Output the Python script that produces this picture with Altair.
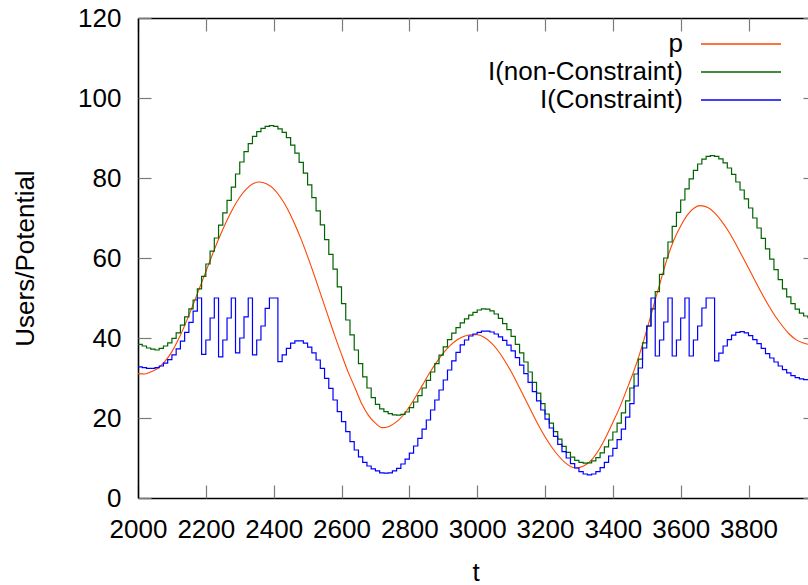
import altair as alt
import pandas as pd

FONT = "Liberation Sans"
FS = 26

SERIES = ["p", "I(non-Constraint)", "I(Constraint)"]
COLORS = ["#ff4500", "#006400", "#0000ff"]

X_TICKS = [2000, 2200, 2400, 2600, 2800, 3000, 3200, 3400, 3600, 3800]
Y_TICKS = [0, 20, 40, 60, 80, 100, 120]

# p : smooth curve
P_T = [2000, 2020, 2040, 2060, 2080, 2100, 2120, 2140, 2160, 2180, 2200, 2220, 2240, 2260,
       2280, 2300, 2320, 2340, 2357, 2380, 2400, 2420, 2440, 2460, 2480, 2500, 2520, 2540,
       2560, 2580, 2600, 2620, 2640, 2660, 2680, 2700, 2720, 2740, 2760, 2780, 2800, 2820,
       2840, 2860, 2880, 2900, 2920, 2940, 2960, 2980, 3000, 3020, 3040, 3060, 3080, 3100,
       3120, 3140, 3160, 3180, 3200, 3220, 3240, 3260, 3280, 3290, 3300, 3320, 3340, 3360,
       3380, 3400, 3420, 3440, 3460, 3480, 3500, 3520, 3540, 3560, 3580, 3600, 3620, 3640,
       3657, 3680, 3700, 3720, 3740, 3760, 3780, 3800, 3820, 3840, 3860, 3880, 3900, 3920,
       3940, 3960, 3980, 4000]
P_V = [31.1, 31.0, 31.6, 32.5, 34.2, 36.6, 39.8, 43.6, 47.8, 52.2, 56.6, 61.0, 65.2, 69.0,
       72.4, 75.2, 77.3, 78.6, 79.0, 78.5, 77.3, 75.2, 72.4, 68.9, 64.9, 60.4, 55.6, 50.6,
       45.6, 40.6, 35.9, 31.4, 27.5, 23.5, 20.6, 18.7, 17.6, 17.9, 18.9, 20.5, 22.8, 25.5,
       28.4, 31.3, 33.9, 36.2, 38.1, 39.5, 40.4, 40.8, 40.8, 40.2, 38.9, 37.0, 34.5, 31.6,
       28.4, 25.0, 21.6, 18.3, 15.3, 12.7, 10.5, 8.8, 7.7, 7.5, 7.6, 8.3, 9.8, 12.2,
       15.3, 18.9, 22.6, 26.9, 31.3, 36.3, 42.0, 48.0, 54.0, 59.8, 64.5, 68.0, 70.8, 72.5,
       73.1, 72.6, 71.3, 69.3, 66.8, 63.9, 60.7, 57.5, 54.2, 51.0, 48.0, 45.3, 43.0, 41.0,
       39.6, 38.8, 38.4, 38.4]

# stepped series, one value per step
STEP_START = 2000
STEP_WIDTH = 12.5
I_NONC = [38.4, 38.0, 37.5, 37.2, 37.0, 37.4, 38.0, 38.8, 39.9, 41.3,
          43.2, 45.3, 47.3, 49.5, 52.3, 55.4, 58.5, 61.7, 65.0, 68.2,
          71.3, 74.4, 77.7, 81.0, 84.0, 86.6, 88.6, 90.4, 91.6, 92.4,
          92.9, 93.1, 92.9, 92.3, 91.4, 90.1, 88.2, 86.2, 83.9, 81.2,
          78.3, 75.1, 71.8, 68.3, 64.6, 60.9, 57.2, 52.8, 48.6, 44.5,
          40.8, 37.0, 33.6, 30.3, 27.5, 25.1, 23.4, 22.3, 21.6, 21.1,
          20.8, 20.7, 20.9, 21.5, 22.6, 24.0, 25.6, 27.5, 29.4, 31.5,
          33.6, 35.7, 37.8, 39.6, 41.2, 42.6, 43.8, 44.8, 45.7, 46.4,
          47.0, 47.3, 47.2, 46.8, 46.0, 44.9, 43.6, 42.1, 40.4, 38.4,
          36.3, 34.0, 31.5, 28.9, 26.2, 23.6, 21.0, 18.7, 16.6, 14.7,
          12.9, 11.4, 10.2, 9.4, 8.9, 8.7, 8.8, 9.3, 10.1, 11.3,
          12.8, 14.5, 16.5, 18.7, 21.3, 24.3, 27.5, 31.0, 34.7, 38.8,
          43.0, 47.3, 51.6, 55.9, 60.0, 64.0, 67.9, 71.4, 74.5, 77.3,
          79.8, 81.9, 83.5, 84.7, 85.4, 85.6, 85.4, 84.8, 83.8, 82.5,
          80.9, 79.0, 77.0, 74.8, 72.5, 70.0, 67.5, 64.9, 62.3, 59.7,
          57.1, 54.6, 52.3, 50.3, 48.6, 47.2, 46.2, 45.5, 45.1, 44.9]
I_CONS = [32.8, 32.6, 32.4, 32.4, 32.6, 33.0, 33.7, 34.6, 35.8, 37.3,
          39.2, 41.4, 43.9, 46.7, 50.0, 35.9, 39.5, 45.0, 50.0, 35.3,
          39.5, 45.0, 50.0, 36.3, 40.0, 45.3, 50.0, 35.8, 39.5, 43.0,
          47.4, 50.0, 50.0, 34.1, 35.8, 37.4, 38.7, 39.3, 39.3, 38.7,
          37.7, 36.3, 34.5, 32.4, 29.9, 27.4, 24.5, 21.6, 19.1, 16.6,
          14.1, 12.0, 10.3, 8.9, 8.0, 7.3, 6.8, 6.3, 6.2, 6.3,
          6.8, 7.4, 8.5, 9.7, 11.2, 13.0, 14.9, 17.2, 19.5, 22.0,
          24.5, 27.0, 29.5, 32.0, 34.3, 36.4, 38.3, 39.5, 40.5, 41.0,
          41.4, 41.7, 41.7, 41.5, 41.0, 40.3, 39.4, 38.2, 36.8, 35.1,
          33.2, 31.1, 28.9, 26.6, 24.3, 22.0, 19.7, 17.5, 15.4, 13.4,
          11.6, 10.0, 8.6, 7.5, 6.6, 6.0, 5.8, 6.0, 6.6, 7.6,
          8.9, 10.5, 12.4, 14.6, 17.2, 20.2, 23.6, 28.0, 32.5, 37.5,
          43.0, 50.0, 35.5, 39.5, 44.0, 50.0, 35.5, 39.5, 45.0, 50.0,
          35.5, 39.5, 43.0, 47.5, 50.0, 50.0, 34.3, 36.2, 38.0, 39.6,
          40.7, 41.4, 41.6, 41.3, 40.6, 39.6, 38.6, 37.4, 36.1, 35.0,
          34.0, 33.0, 32.1, 31.3, 30.6, 30.1, 29.8, 29.6, 29.6, 29.7]

# ---------------- data frames ----------------
p_df = pd.DataFrame({"t": P_T, "v": P_V, "series": SERIES[0]})
T = [STEP_START + STEP_WIDTH * i for i in range(len(I_NONC))]
step_df = pd.concat([
    pd.DataFrame({"t": T, "v": I_NONC, "series": SERIES[1]}),
    pd.DataFrame({"t": T, "v": I_CONS, "series": SERIES[2]}),
])
leg_df = pd.DataFrame({"series": SERIES, "row": list(range(len(SERIES)))})

# ---------------- scales ----------------
XS = alt.Scale(domain=[2000, 3975.4], nice=False, zero=False)
YS = alt.Scale(domain=[0, 120], nice=False, zero=False)
CS = alt.Scale(domain=SERIES, range=COLORS)

BORDER = dict(domain=True, domainColor="black", domainWidth=1.6, grid=False)
TICKS = dict(domain=False, labels=False, grid=False, ticks=True, tickColor="#7a7a7a",
             tickWidth=1.2, tickSize=13, offset=-13, title=None)

x_main = alt.X("t:Q", scale=XS, axis=alt.Axis(
    orient="bottom", values=X_TICKS, format="d", labelOverlap=False, labelFlush=False,
    ticks=False, labelPadding=18, labelFont=FONT,
    labelFontSize=FS, labelColor="black", title="t", titleFont=FONT, titleFontSize=FS,
    titleFontWeight="normal", titleColor="black", titleX=337.5, titleY=82,
    titleBaseline="alphabetic", titleAlign="center", **BORDER))
y_main = alt.Y("v:Q", scale=YS, axis=alt.Axis(
    orient="left", values=Y_TICKS, format="d", labelOverlap=False, labelFlush=False,
    ticks=False, labelPadding=17, labelFont=FONT,
    labelFontSize=FS, labelColor="black", title="Users/Potential", titleFont=FONT,
    titleFontSize=FS, titleFontWeight="normal", titleColor="black", titleAngle=270,
    titleX=-105, titleY=240, titleBaseline="alphabetic", titleAlign="center", **BORDER))

color = alt.Color("series:N", scale=CS, legend=None)

p_line = alt.Chart(p_df).mark_line(clip=True, strokeWidth=1.1, interpolate="monotone").encode(
    x=x_main, y=y_main, color=color)

step_lines = alt.Chart(step_df).mark_line(clip=True, strokeWidth=1.2, interpolate="step-after").encode(
    x=alt.X("t:Q", scale=XS, axis=None), y=alt.Y("v:Q", scale=YS, axis=None),
    color=color, order=alt.Order("t:Q"))

ghost = alt.Chart(p_df).mark_point(opacity=0)

ticks_bl = ghost.encode(
    x=alt.X("t:Q", scale=XS, axis=alt.Axis(orient="bottom", values=X_TICKS, **TICKS)),
    y=alt.Y("v:Q", scale=YS, axis=alt.Axis(orient="left", values=Y_TICKS, **TICKS)))

top_right = ghost.encode(
    x=alt.X("t:Q", scale=XS, axis=alt.Axis(orient="top", ticks=False, labels=False,
                                          title=None, **BORDER)),
    y=alt.Y("v:Q", scale=YS, axis=alt.Axis(orient="right", values=Y_TICKS, domain=False,
                                          labels=False, grid=False, ticks=True,
                                          tickColor="#7a7a7a", tickWidth=1.2, tickSize=13,
                                          offset=-5, title=None)))

ticks_top = ghost.encode(
    x=alt.X("t:Q", scale=XS, axis=alt.Axis(orient="top", values=X_TICKS, **TICKS)),
    y=alt.Y("v:Q", scale=YS, axis=None))

# legend (positions relative to the plot area's top-left corner)
legend_base = alt.Chart(leg_df).transform_calculate(ly="26 + 28 * datum.row")
leg_text = legend_base.mark_text(align="right", baseline="middle", font=FONT, fontSize=FS,
                                 color="black").encode(
    x=alt.value(545), y=alt.Y("ly:Q", scale=None), text="series:N")
leg_rule = legend_base.mark_rule(strokeWidth=1.3).encode(
    x=alt.value(563), x2=alt.value(643), y=alt.Y("ly:Q", scale=None), color=color)

chart = alt.layer(
    p_line, step_lines, ticks_bl, top_right, ticks_top, leg_text, leg_rule
).resolve_axis(x="independent", y="independent").properties(
    width=670, height=480,
    autosize=alt.AutoSizeParams(type="none"),
    padding={"left": 138, "top": 18, "right": 0, "bottom": 87},
    background="white",
).configure_view(stroke=None)

chart.save("out.html", embed_options={"renderer": "svg", "actions": False})
